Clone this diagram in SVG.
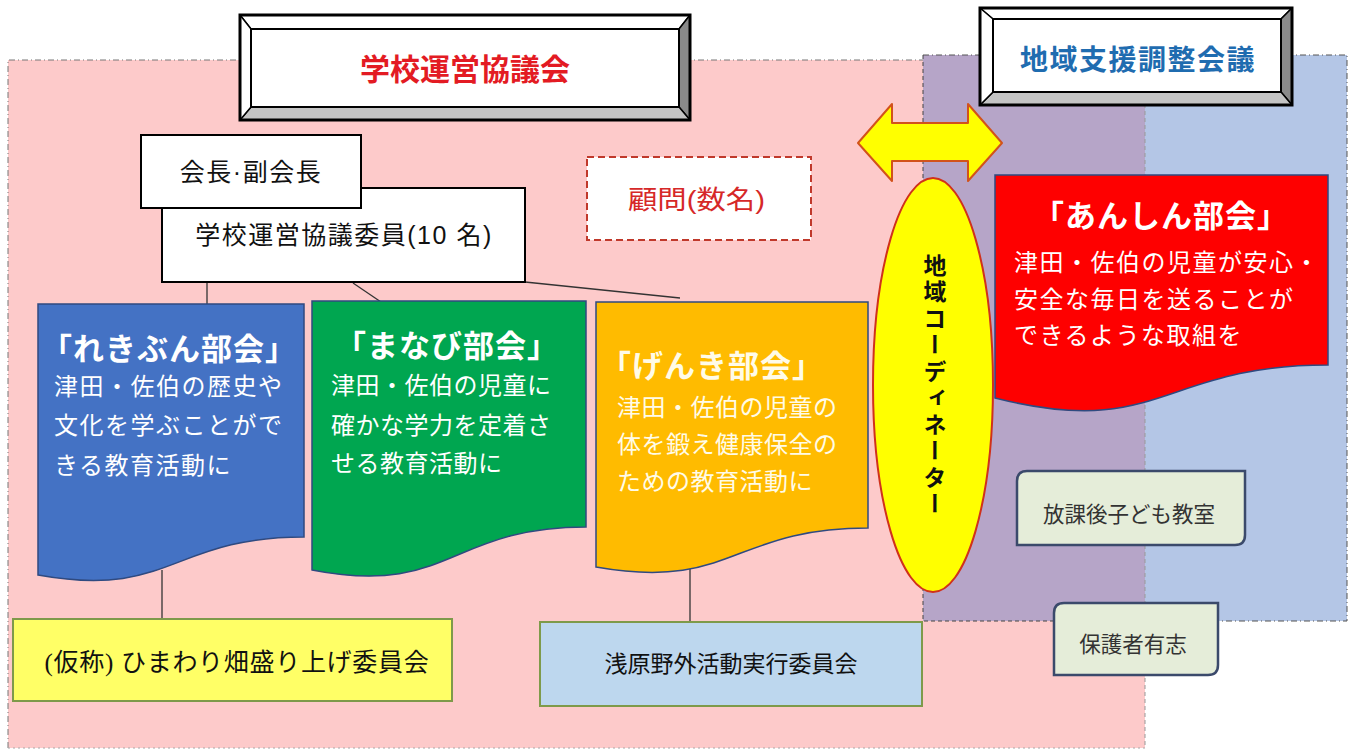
<svg xmlns="http://www.w3.org/2000/svg" width="1353" height="751" viewBox="0 0 1353 751">
<style>
.cjk{font-family:"Liberation Sans","Noto Sans CJK JP",sans-serif}
.serif{font-family:"Liberation Serif","Noto Sans CJK JP",serif}
.conn{stroke:#333;stroke-width:1.3;fill:none}
.doc{stroke:#2f4a80;stroke-width:1.5}
.ttl{font-size:31px;font-weight:bold;letter-spacing:1px;fill:#fff}
.body{font-size:24px;letter-spacing:1.5px;fill:#fff}
.bev{stroke:#000;stroke-width:1.5;stroke-linejoin:round}
.wbox{fill:#fff;stroke:#000;stroke-width:2}
.tab{fill:#e5edd9;stroke:#3b4a6b;stroke-width:2.5}
.tabt{font-size:21.5px;fill:#333}
.sub{stroke:#7e9a4a;stroke-width:2}
</style>

<g id="regions">
  <rect x="8" y="60" width="1137" height="688" fill="#fdcaca"/>
  <rect x="1145" y="55" width="202" height="566" fill="#b4c6e6"/>
  <rect x="923" y="55" width="222" height="566" fill="#b6a5c8"/>
  <path d="M8,748 V60 H923" fill="none" stroke="#777" stroke-width="1" stroke-dasharray="6 3 1 3"/>
  <path d="M8,748 H1145" fill="none" stroke="#aaa" stroke-width="1" stroke-dasharray="2 3"/>
  <path d="M923,55 H1347 V621 H1145" fill="none" stroke="#555" stroke-width="1" stroke-dasharray="6 3 1 3"/>
  <path d="M923,55 V621 H1145" fill="none" stroke="#444" stroke-width="1" stroke-dasharray="4 3"/>
  <path d="M1145,55 V748" fill="none" stroke="#999" stroke-width="1" stroke-dasharray="4 3"/>
</g>

<g id="connectors">
  <line class="conn" x1="207" y1="282" x2="207" y2="305"/>
  <line class="conn" x1="353" y1="283" x2="381" y2="302"/>
  <line class="conn" x1="525" y1="282" x2="680" y2="298"/>
  <line class="conn" x1="162" y1="570" x2="162" y2="619"/>
  <line class="conn" x1="690" y1="540" x2="690" y2="622"/>
</g>

<g id="title-school">
  <polygon class="bev" points="240,15 690,15 679,29 251,29" fill="#fff"/>
  <polygon class="bev" points="690,15 690,120 679,107 679,29" fill="#8a8a8a"/>
  <polygon class="bev" points="240,120 690,120 679,107 251,107" fill="#c4c4c4"/>
  <polygon class="bev" points="240,15 251,29 251,107 240,120" fill="#fff"/>
  <rect x="240" y="15" width="450" height="105" fill="none" stroke="#000" stroke-width="3"/>
  <rect x="251" y="29" width="428" height="78" fill="#fff" stroke="#000" stroke-width="2"/>
  <text class="cjk" x="465" y="80" text-anchor="middle" font-size="30" font-weight="bold" fill="#e31b23">学校運営協議会</text>
</g>

<g id="title-region">
  <polygon class="bev" points="980,8 1292,8 1281,19 993,19" fill="#fff"/>
  <polygon class="bev" points="1292,8 1292,105 1281,92 1281,19" fill="#8a8a8a"/>
  <polygon class="bev" points="980,105 1292,105 1281,92 993,92" fill="#c4c4c4"/>
  <polygon class="bev" points="980,8 993,19 993,92 980,105" fill="#fff"/>
  <rect x="980" y="8" width="312" height="97" fill="none" stroke="#000" stroke-width="3"/>
  <rect x="993" y="19" width="288" height="73" fill="#fff" stroke="#000" stroke-width="2"/>
  <text class="cjk" x="1138" y="70" text-anchor="middle" font-size="28" font-weight="bold" letter-spacing="1.5" fill="#1f6cb0">地域支援調整会議</text>
</g>

<g id="members">
  <rect class="wbox" x="162" y="188" width="363" height="94"/>
  <text class="cjk" x="344" y="244" text-anchor="middle" font-size="25" letter-spacing="1.5" fill="#111">学校運営協議委員(10 名)</text>
</g>

<g id="chair">
  <rect class="wbox" x="141" y="135" width="220" height="73"/>
  <text class="cjk" x="251" y="181" text-anchor="middle" font-size="25" letter-spacing="1.5" fill="#111">会長·副会長</text>
</g>

<g id="advisor">
  <rect x="587" y="157" width="224" height="83" fill="#fff" stroke="#c0392b" stroke-width="2" stroke-dasharray="7 4"/>
  <text class="cjk" x="628" y="209" font-size="26" textLength="137" lengthAdjust="spacingAndGlyphs" fill="#d62828">顧問(数名)</text>
</g>

<g id="arrow">
  <polygon points="858,143 892,104 892,123 968,123 968,104 1002,143 968,181 968,161 892,161 892,181" fill="#ffff00" stroke="#d2521b" stroke-width="2" stroke-linejoin="round"/>
</g>

<g id="rekibun">
  <path class="doc" d="M38,304 H304 V537 C171,537 171,599 38,575 Z" fill="#4472c4"/>
  <text class="cjk ttl" x="169" y="360" text-anchor="middle">「れきぶん部会」</text>
  <text class="cjk body" x="54" y="395">津田・佐伯の歴史や</text>
  <text class="cjk body" x="54" y="434">文化を学ぶことがで</text>
  <text class="cjk body" x="54" y="474">きる教育活動に</text>
</g>

<g id="manabi">
  <path class="doc" d="M312,301 H586 V527 C449,527 449,597 312,570 Z" fill="#00a650"/>
  <text class="cjk ttl" x="447" y="357" text-anchor="middle">「まなび部会」</text>
  <text class="cjk body" x="331" y="394" style="letter-spacing:0.5px">津田・佐伯の児童に</text>
  <text class="cjk body" x="331" y="434" style="letter-spacing:0.5px">確かな学力を定着さ</text>
  <text class="cjk body" x="331" y="472" style="letter-spacing:0.5px">せる教育活動に</text>
</g>

<g id="genki">
  <path class="doc" d="M596,302 H868 V528 C732,528 732,591 596,567 Z" fill="#ffbb00"/>
  <text class="cjk ttl" x="712" y="377" text-anchor="middle" style="fill:#fffbe8">「げんき部会」</text>
  <text class="cjk body" x="617" y="416" style="fill:#fffbe8;letter-spacing:0.5px">津田・佐伯の児童の</text>
  <text class="cjk body" x="617" y="453" style="fill:#fffbe8;letter-spacing:0.5px">体を鍛え健康保全の</text>
  <text class="cjk body" x="617" y="490" style="fill:#fffbe8;letter-spacing:0.5px">ための教育活動に</text>
</g>

<g id="anshin">
  <path class="doc" d="M995,175 H1328 V365 C1161,365 1161,440 995,398 Z" fill="#fe0000"/>
  <text class="cjk ttl" x="1161" y="227" text-anchor="middle">「あんしん部会」</text>
  <text class="cjk body" x="1014" y="271">津田・佐伯の児童が安心・</text>
  <text class="cjk body" x="1014" y="308">安全な毎日を送ることが</text>
  <text class="cjk body" x="1014" y="344">できるような取組を</text>
</g>

<g id="coordinator">
  <ellipse cx="933" cy="385" rx="60" ry="207" fill="#ffff00" stroke="#d0311b" stroke-width="2"/>
  <text class="cjk" x="933" y="386" writing-mode="vertical-rl" text-anchor="middle" font-size="23" font-weight="bold" letter-spacing="3.5" fill="#111">地域コーディネーター</text>
</g>

<g id="afterschool">
  <path class="tab" d="M1027,471 H1245 V535 Q1245,545 1235,545 H1017 V481 Q1017,471 1027,471 Z"/>
  <text class="cjk tabt" x="1129" y="522" text-anchor="middle">放課後子ども教室</text>
</g>

<g id="parents">
  <path class="tab" d="M1064,603 H1218 V665 Q1218,675 1208,675 H1054 V613 Q1054,603 1064,603 Z"/>
  <text class="cjk tabt" x="1133" y="652" text-anchor="middle">保護者有志</text>
</g>

<g id="himawari">
  <rect class="sub" x="13" y="619" width="439" height="82" fill="#ffff66"/>
  <text class="serif" x="237" y="671" text-anchor="middle" font-size="25" letter-spacing="0.7" fill="#111">(仮称) ひまわり畑盛り上げ委員会</text>
</g>

<g id="asahara">
  <rect class="sub" x="540" y="622" width="382" height="84" fill="#bdd7ee"/>
  <text class="serif" x="731" y="672" text-anchor="middle" font-size="23" fill="#111">浅原野外活動実行委員会</text>
</g>
</svg>
